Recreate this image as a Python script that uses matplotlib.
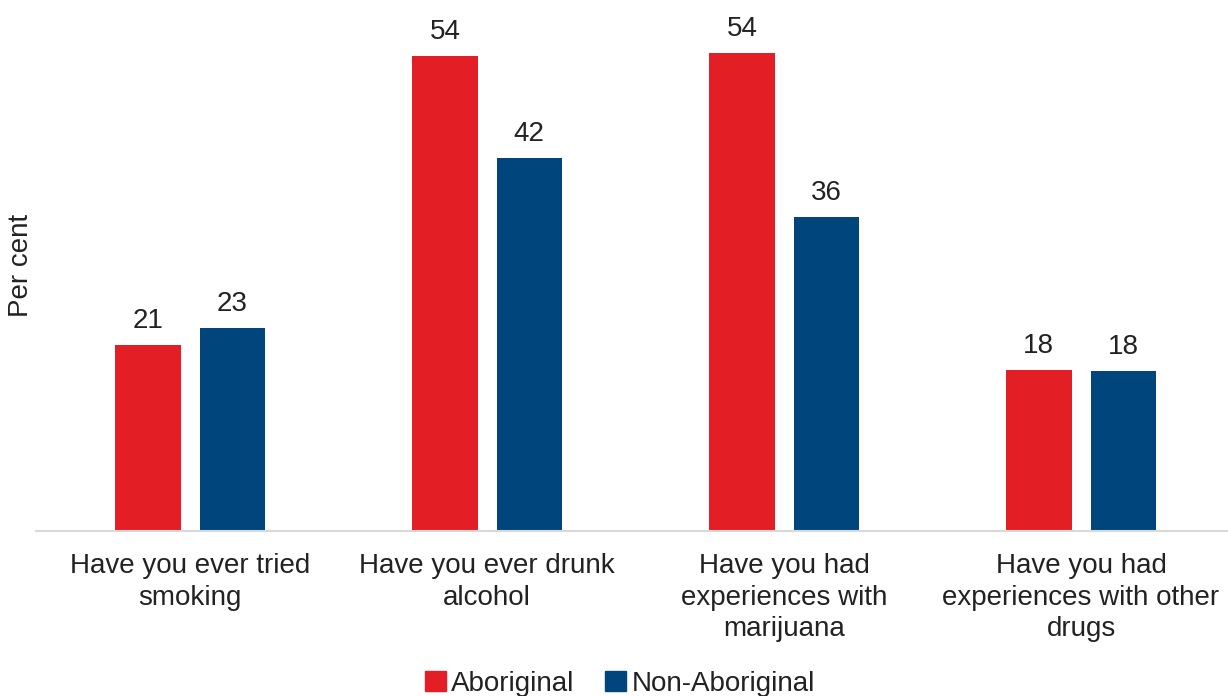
import matplotlib
matplotlib.use("Agg")
import matplotlib.pyplot as plt
import numpy as np
from matplotlib.patches import Patch

categories = ["Have you ever tried\nsmoking", "Have you ever drunk\nalcohol",
              "Have you had\nexperiences with\nmarijuana", "Have you had\nexperiences with other\ndrugs"]
aboriginal = [20.9, 53.5, 53.8, 18.1]
non_aboriginal = [22.9, 42.0, 35.4, 18.0]
aboriginal_labels = ["21", "54", "54", "18"]
non_aboriginal_labels = ["23", "42", "36", "18"]
series_names = ["Aboriginal", "Non-Aboriginal"]

RED = "#E31E24"
BLUE = "#00457C"
TXT = "#222222"
FS = 20

plt.rcParams['font.family'] = ['Liberation Sans', 'DejaVu Sans']

W, H = 1228, 696
fig = plt.figure(figsize=(W / 100, H / 100), dpi=100)
ax_left, ax_right, ax_bottom, ax_top = 36, 1228, 531, 0
ax = fig.add_axes([ax_left / W, (H - ax_bottom) / H, (ax_right - ax_left) / W, (ax_bottom - ax_top) / H])

x = np.arange(len(categories))
bw = 0.22
off = 0.142
b1 = ax.bar(x - off, aboriginal, bw, color=RED)
b2 = ax.bar(x + off, non_aboriginal, bw, color=BLUE)

for bars, labels in ((b1, aboriginal_labels), (b2, non_aboriginal_labels)):
    for rect, lab in zip(bars, labels):
        ax.annotate(lab, (rect.get_x() + rect.get_width() / 2, rect.get_height()),
                    xytext=(0, 8), textcoords="offset points", ha="center", va="bottom",
                    fontsize=FS, color=TXT)

ax.set_xlim(-0.519, 3.495)
ax.set_ylim(0, (ax_bottom - ax_top) / 8.88)
ax.set_xticks(x)
ax.set_xticklabels(categories, fontsize=FS, color=TXT, linespacing=1.28)
ax.tick_params(axis="x", length=0, pad=16)
ax.set_yticks([])
for s in ("top", "right", "left"):
    ax.spines[s].set_visible(False)
ax.spines["bottom"].set_color("#D9D9D9")
ax.spines["bottom"].set_linewidth(1.5)

fig.text(21 / W, (H - 265) / H, "Per cent", rotation=90, ha="center", va="center",
         fontsize=FS, color=TXT)

handles = [Patch(color=RED), Patch(color=BLUE)]
fig.legend(handles, series_names, loc="center", bbox_to_anchor=(620 / W, (H - 684) / H),
           ncol=2, frameon=False, fontsize=FS, handlelength=0.75, handleheight=0.75,
           handletextpad=0.2, columnspacing=1.1, labelcolor=TXT)

fig.savefig("out.png", dpi=100)
